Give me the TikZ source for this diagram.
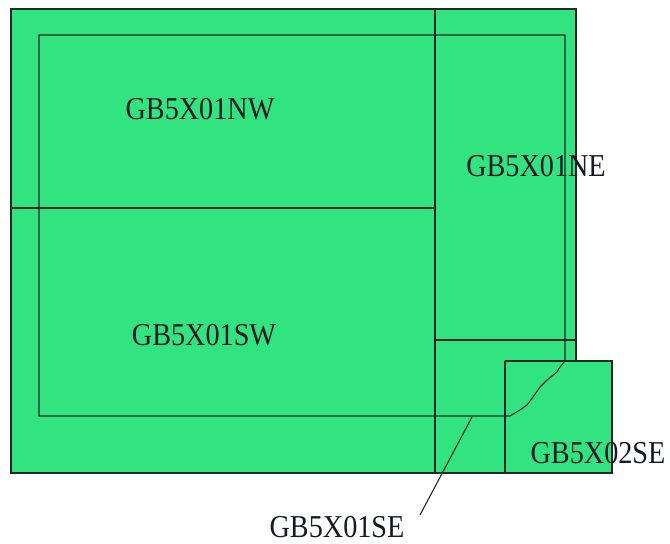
\documentclass[tikz,border=0pt]{standalone}
\usepackage{fontspec}
\usepackage{graphicx}
\setmainfont{Liberation Serif}
\definecolor{tilegreen}{RGB}{50,228,128}
\definecolor{inkc}{RGB}{20,25,40}
\newcommand{\tallt}[1]{\scalebox{1}[1.13]{#1}}
\begin{document}
\begin{tikzpicture}[x=1pt,y=-1pt,
  edge/.style={draw=black!85,line width=1.1pt},
  lbl/.style={inner sep=0pt,anchor=base,font=\fontsize{28.2}{30}\selectfont,text=inkc}]
\useasboundingbox (0,0) rectangle (670,544);
% filled outline
\fill[tilegreen] (11,9) -- (576,9) -- (576,361) -- (612,361) -- (612,473) -- (11,473) -- cycle;
\draw[edge] (11,9) -- (576,9) -- (576,361) -- (612,361) -- (612,473) -- (11,473) -- cycle;
% square GB5X02SE
\draw[edge] (505,361) -- (576,361);
\draw[edge] (505,361) -- (505,473);
% tile divisions
\draw[edge] (435,9) -- (435,473);
\draw[edge] (11,208) -- (435,208);
\draw[edge] (435,340) -- (576,340);
% inner boundary
\draw[edge] (510,416) -- (39,416) -- (39,35) -- (565,35) -- (565,361)
  -- (560,367) -- (557,372) -- (547,380) -- (540,387) -- (533,397)
  -- (527,405) -- (520,410) -- cycle;
% labels
\node[lbl] (nw) at (200,119) {\tallt{GB5X01NW}};
\node[lbl] (ne) at (536,176) {\tallt{GB5X01NE}};
\node[lbl] (sw) at (204,345) {\tallt{GB5X01SW}};
\node[lbl] (se2) at (598,463) {\tallt{GB5X02SE}};
\node[lbl] (se) at (337,537) {\tallt{GB5X01SE}};
\coordinate (sept) at (472,417);
\coordinate (seend) at (420,515);
\draw[edge] (sept) -- (seend);
\end{tikzpicture}
\end{document}
